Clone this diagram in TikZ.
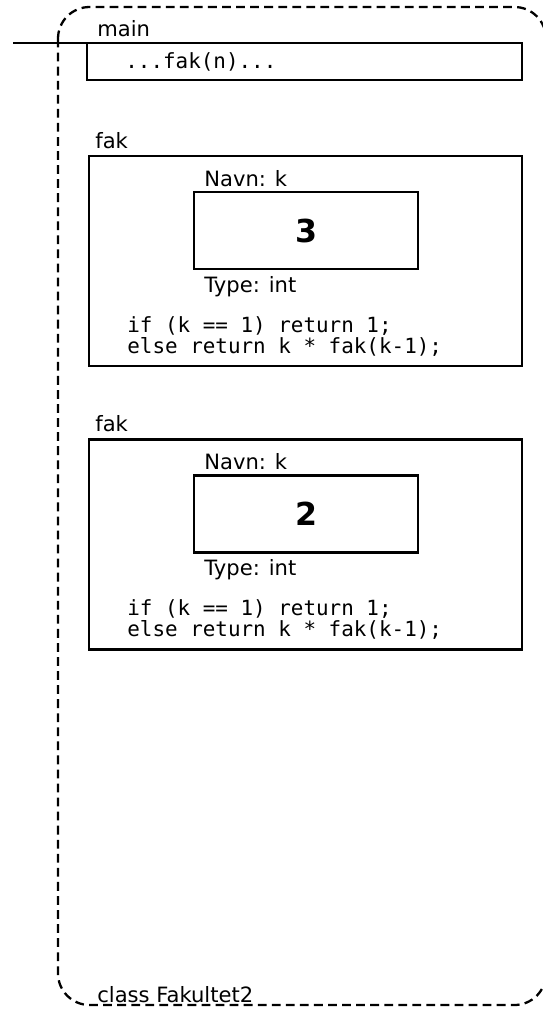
\documentclass[tikz,border=0pt]{standalone}
\usepackage{fontspec}
\setmainfont{DejaVu Sans}
\setmonofont{DejaVu Sans Mono}

\tikzset{
  classbox/.style={draw, line width=1.3pt, dash pattern=on 5pt off 3pt, rounded corners=18pt},
  mainbox/.style={draw, line width=1.3pt, minimum width=8.7cm, minimum height=0.74cm, inner sep=0pt},
  fakbox/.style={draw, line width=1.3pt, minimum width=8.66cm, minimum height=4.2cm, inner sep=0pt},
  varbox/.style={draw, line width=1.5pt, minimum width=4.48cm, minimum height=1.54cm, inner sep=0pt,
    font=\fontsize{18}{20}\selectfont\bfseries},
  lbl/.style={anchor=base west, inner sep=0pt, font=\fontsize{12}{14}\selectfont},
  code/.style={anchor=base west, inner sep=0pt, font=\fontsize{11.9}{13}\selectfont\ttfamily},
}

\begin{document}
\begin{tikzpicture}[x=0.02cm,y=-0.02cm]
\useasboundingbox (0,0) rectangle (543,1011);

% the class
\draw[classbox] (58,7) rectangle (546,1005);
\node[lbl] (classname) at (97,1002) {class Fakultet2};

% main
\node[lbl] (mainname) at (97,36) {main};
\node[mainbox] (main) at (304.5,61.5) {};
\node[code] (call) at (125,68) {...fak(n)...};
\coordinate (stubL) at (13,43);
\coordinate (stubR) at (308,43);
\draw[line width=1.4pt] (stubL) -- (stubR);

% one frame for each call of fak
\foreach \v/\dy in {3/0, 2/283.5}{
  \node[lbl] (fakname\v) at (95,148+\dy) {fak};
  \node[fakbox] (fak\v) at (305.5,261+\dy) {};
  \node[varbox] (k\v) at (306,230.5+\dy) {\v};
  \node[lbl] (navn\v) at (204,186+\dy) {Navn: k};
  \node[lbl] (type\v) at (204,292+\dy) {Type: int};
  \node[code] (ifline\v) at (127,332+\dy) {if (k == 1) return 1;};
  \node[code] (elseline\v) at (127,353+\dy) {else return k * fak(k-1);};
}
\end{tikzpicture}
\end{document}
